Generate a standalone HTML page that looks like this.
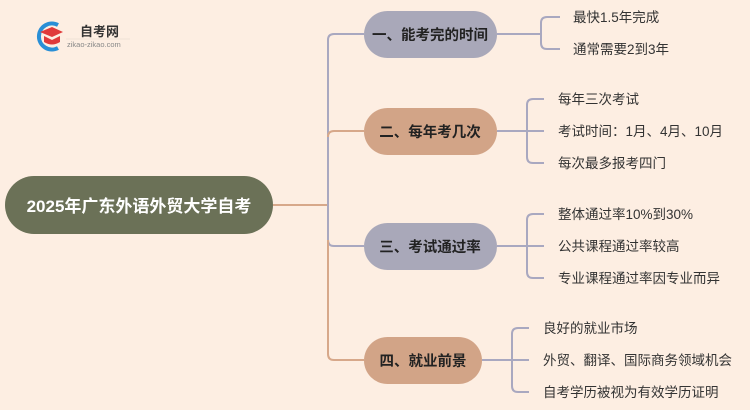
<!DOCTYPE html>
<html><head><meta charset="utf-8"><style>
html,body{margin:0;padding:0;background:#fdeee2;}
svg{display:block;}
text{font-family:"Liberation Sans","Noto Sans CJK SC",sans-serif;}
</style></head><body>
<svg width="750" height="410" viewBox="0 0 750 410" xmlns="http://www.w3.org/2000/svg">
<rect width="750" height="410" fill="#fdeee2"/>
<!-- logo -->
<path d="M58,25 A13,13 0 1 0 58,48" fill="none" stroke="#2a8fd6" stroke-width="4"/>
<path d="M40,32 L52,27 L63,32 L52,37 Z" fill="#e03a3a"/>
<path d="M44,36 L44,42 Q52,47 60,42 L60,36 L52,40 Z" fill="#e03a3a"/>
<text x="80" y="36" font-size="13" font-weight="bold" fill="#333">自考网</text>
<text x="67" y="47" font-size="7.5" fill="#888">zikao-zikao.com</text>
<line x1="66" y1="39" x2="130" y2="39" stroke="#e0d6cc" stroke-width="0.6"/>

<!-- trunk connectors -->
<g fill="none" stroke-width="2">
<path d="M273,205 H328" stroke="#d7a88a"/>
<path d="M364,34 H334 Q328,34 328,40 V205" stroke="#a9a8c0"/>
<path d="M364,131 H334 Q328,131 328,137" stroke="#d7a88a"/>
<path d="M328,205 V240 Q328,246 334,246 H364" stroke="#a9a8c0"/>
<path d="M328,240 V354 Q328,360 334,360 H364" stroke="#d7a88a"/>
</g>
<!-- leaf brackets -->
<g fill="none" stroke="#a9a8c0" stroke-width="2">
<path d="M497,34 H541"/>
<path d="M560,17 H547 Q541,17 541,23 V43 Q541,49 547,49 H560"/>
<path d="M497,131 H544"/>
<path d="M544,99 H533 Q527,99 527,105 V157 Q527,163 533,163 H544"/>
<path d="M497,246 H544"/>
<path d="M544,214 H533 Q527,214 527,220 V272 Q527,278 533,278 H544"/>
<path d="M482,360 H529"/>
<path d="M529,328 H518 Q512,328 512,334 V386 Q512,392 518,392 H529"/>
</g>

<!-- root -->
<rect x="5" y="176" width="268" height="58" rx="29" fill="#6b7157"/>
<text x="139" y="212" font-size="17" font-weight="bold" fill="#fff" text-anchor="middle">2025年广东外语外贸大学自考</text>

<!-- branches -->
<rect x="364" y="11" width="133" height="47" rx="23.5" fill="#a9a8b9"/>
<text x="430" y="40" font-size="14.5" font-weight="bold" fill="#222" text-anchor="middle">一、能考完的时间</text>
<rect x="364" y="108" width="133" height="47" rx="23.5" fill="#d2a487"/>
<text x="430" y="137" font-size="14.5" font-weight="bold" fill="#222" text-anchor="middle">二、每年考几次</text>
<rect x="364" y="223" width="133" height="47" rx="23.5" fill="#a9a8b9"/>
<text x="430" y="252" font-size="14.5" font-weight="bold" fill="#222" text-anchor="middle">三、考试通过率</text>
<rect x="364" y="337" width="118" height="47" rx="23.5" fill="#d2a487"/>
<text x="423" y="366" font-size="14.5" font-weight="bold" fill="#222" text-anchor="middle">四、就业前景</text>

<!-- leaves -->
<g font-size="13.5" fill="#333">
<text x="573" y="22">最快1.5年完成</text>
<text x="573" y="54">通常需要2到3年</text>
<text x="558" y="104">每年三次考试</text>
<text x="558" y="136">考试时间：1月、4月、10月</text>
<text x="558" y="168">每次最多报考四门</text>
<text x="558" y="219">整体通过率10%到30%</text>
<text x="558" y="251">公共课程通过率较高</text>
<text x="558" y="283">专业课程通过率因专业而异</text>
<text x="543" y="333">良好的就业市场</text>
<text x="543" y="365">外贸、翻译、国际商务领域机会</text>
<text x="543" y="397">自考学历被视为有效学历证明</text>
</g>
</svg>
</body></html>
